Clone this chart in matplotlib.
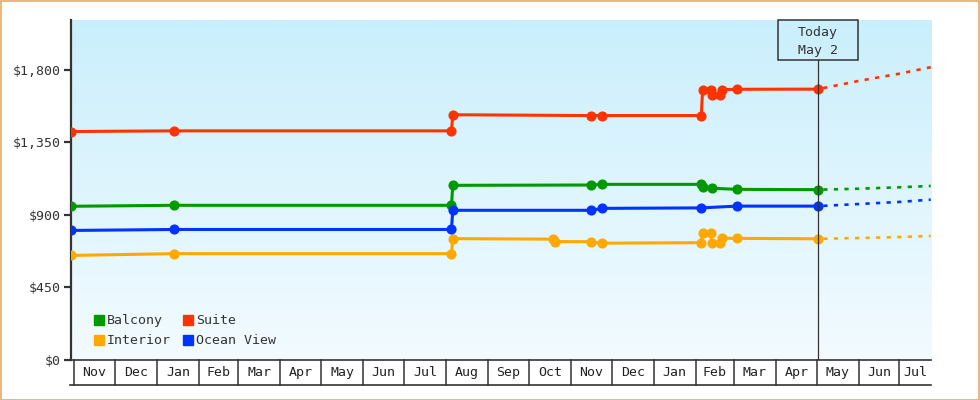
import matplotlib
matplotlib.use('Agg')
import matplotlib.pyplot as plt
import matplotlib.dates as mdates
import matplotlib.transforms as mtransforms
from matplotlib.patches import Rectangle
from matplotlib.lines import Line2D
import numpy as np
import pandas as pd

plt.rcParams['font.family'] = ['DejaVu Sans Mono', 'Liberation Mono']

# ---------------- data ----------------
series_names = ["Balcony", "Interior", "Suite", "Ocean View"]
series_colors = ["#009900", "#ffa800", "#ff3300", "#0033ff"]

balcony_dates = ["2023-10-30", "2024-01-14", "2024-08-05", "2024-08-06", "2024-11-16",
                 "2024-11-24", "2025-02-05", "2025-02-06", "2025-02-13", "2025-03-03", "2025-05-02"]
balcony_prices = [954, 960, 960, 1084, 1086, 1090, 1090, 1072, 1066, 1059, 1057]

interior_dates = ["2023-10-30", "2024-01-14", "2024-08-05", "2024-08-06", "2024-10-19",
                  "2024-10-20", "2024-11-16", "2024-11-24", "2025-02-05", "2025-02-06",
                  "2025-02-12", "2025-02-13", "2025-02-19", "2025-02-20", "2025-03-03", "2025-05-02"]
interior_prices = [649, 660, 660, 753, 750, 735, 734, 725, 728, 786, 786, 728, 728, 755, 755, 752]

suite_dates = ["2023-10-30", "2024-01-14", "2024-08-05", "2024-08-06", "2024-11-16",
               "2024-11-24", "2025-02-05", "2025-02-06", "2025-02-12", "2025-02-13",
               "2025-02-19", "2025-02-20", "2025-03-03", "2025-05-02"]
suite_prices = [1418, 1422, 1422, 1522, 1517, 1517, 1517, 1678, 1678, 1642, 1642, 1678, 1680, 1681]

ocean_dates = ["2023-10-30", "2024-01-14", "2024-08-05", "2024-08-06", "2024-11-16",
               "2024-11-24", "2025-02-05", "2025-03-03", "2025-05-02"]
ocean_prices = [804, 810, 810, 929, 929, 941, 944, 955, 955]

forecast_dates = ["2025-05-02", "2025-06-01", "2025-07-01", "2025-07-24"]
balcony_forecast = [1057, 1063, 1072, 1080]
interior_forecast = [752, 757, 763, 770]
suite_forecast = [1681, 1732, 1777, 1817]
ocean_forecast = [955, 968, 981, 995]

y_ticks = [0, 450, 900, 1350, 1800]
today = "2025-05-02"
today_label = ["Today", "May 2"]
x_start = "2023-10-29 19:00"
x_end = "2025-07-24 05:00"
y_max = 2110

# ---------------- figure ----------------
DPI = 100
FS = 9.5
fig = plt.figure(figsize=(9.8, 4.0), dpi=DPI)
fig.patch.set_facecolor("white")
L, R, T, B = 71, 931, 20, 360
W, H = 980, 400
ax = fig.add_axes([L / W, 1 - B / H, (R - L) / W, (B - T) / H])
AH = B - T

def num(dlist):
    return mdates.date2num(pd.to_datetime(dlist).to_pydatetime())

x0 = mdates.date2num(pd.Timestamp(x_start).to_pydatetime())
x1 = mdates.date2num(pd.Timestamp(x_end).to_pydatetime())
tnum = mdates.date2num(pd.Timestamp(today).to_pydatetime())

# gradient background
top_c = np.array([202, 239, 252]) / 255
bot_c = np.array([243, 251, 255]) / 255
t = np.linspace(0, 1, 256)[:, None]
grad = (top_c[None, :] * (1 - t) + bot_c[None, :] * t)[:, None, :]
ax.imshow(grad, extent=[0, 1, 0, 1], transform=ax.transAxes, aspect='auto', zorder=0,
          interpolation='bilinear')

hist = [(balcony_dates, balcony_prices), (interior_dates, interior_prices),
        (suite_dates, suite_prices), (ocean_dates, ocean_prices)]
fc = [balcony_forecast, interior_forecast, suite_forecast, ocean_forecast]
fx = num(forecast_dates)

for (d, p), f, c in zip(hist, fc, series_colors):
    ax.plot(fx, f, color=c, lw=1.9, ls=(2.0, (1.6, 2.4)), zorder=3,
            dash_capstyle='butt')
    ax.plot(num(d), p, color=c, lw=2.2, marker='o', ms=6.3, mec=c, mfc=c, zorder=4)

ax.set_xlim(x0, x1)
ax.set_ylim(0, y_max)

# today line + box
blend = mtransforms.blended_transform_factory(ax.transData, ax.transAxes)
box_h = 40 / AH
ax.plot([tnum, tnum], [0, 1 - box_h], transform=blend, color="#333333", lw=0.9, zorder=5)
half_w = 40 / ((R - L) / (x1 - x0))
ax.add_patch(Rectangle((tnum - half_w, 1 - box_h), 2 * half_w, box_h, transform=blend,
                       fill=False, ec="#333333", lw=1.1, zorder=5, clip_on=False))
ax.text(tnum, 1 - 12.5 / AH, today_label[0], transform=blend, ha='center', va='center',
        fontsize=FS, color="#333333", zorder=6)
ax.text(tnum, 1 - 30.5 / AH, today_label[1], transform=blend, ha='center', va='center',
        fontsize=FS, color="#333333", zorder=6)

# axes styling
for s in ["top", "right"]:
    ax.spines[s].set_visible(False)
ax.spines["left"].set_color("#333333")
ax.spines["left"].set_linewidth(1.6)
ax.spines["bottom"].set_color("#333333")
ax.spines["bottom"].set_linewidth(1.2)
ax.set_yticks(y_ticks)
ax.set_yticklabels([f"${v:,}" for v in y_ticks])
ax.tick_params(axis='y', direction='out', length=5, width=1.6, color="#333333",
               labelcolor="#333333", labelsize=FS, pad=2.5)
ax.set_xticks([])

# month cells
cell_h = 25 / AH
months = pd.date_range("2023-11-01", "2025-08-01", freq="MS")
mnums = num(months)
for i in range(len(mnums) - 1):
    a, b = mnums[i], mnums[i + 1]
    if a >= x1:
        break
    ax.plot([a, a], [0, -cell_h], transform=blend, color="#333333", lw=1.1, clip_on=False)
    cx = (max(a, x0) + min(b, x1)) / 2
    ax.text(cx, -cell_h / 2, months[i].strftime("%b"), transform=blend, ha='center',
            va='center', fontsize=FS, color="#222222")
ax.plot([x0 - 1, x1], [-cell_h, -cell_h], transform=blend, color="#333333", lw=1.2,
        clip_on=False)

# legend
handles = [Line2D([], [], marker='s', ls='', color=c, ms=7.8) for c in series_colors]
leg = ax.legend(handles, series_names, ncol=2, loc='lower left',
                bbox_to_anchor=(22.3 / (R - L), 12.5 / AH),
                frameon=False, fontsize=FS, handlelength=0.82, handletextpad=0.22,
                columnspacing=0.88, labelspacing=0.55, borderpad=0, borderaxespad=0)
for tx in leg.get_texts():
    tx.set_color("#333333")

# outer border
fig.patches.append(Rectangle((0.5 / W, 0.5 / H), 1 - 1.5 / W, 1 - 1.5 / H,
                             transform=fig.transFigure, fill=False, ec="#e8a964", lw=1.2))

fig.savefig("out.png", dpi=DPI)
